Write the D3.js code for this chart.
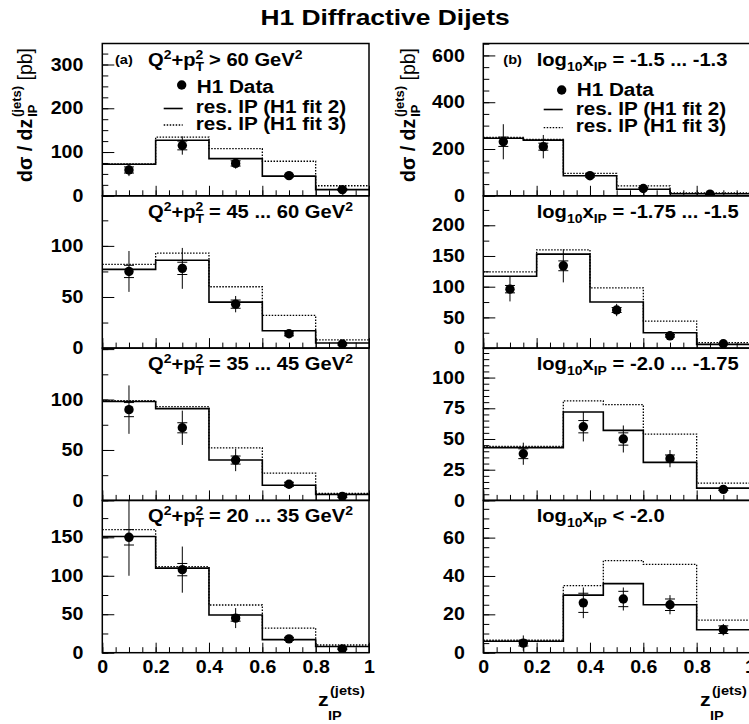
<!DOCTYPE html>
<html lang="en">
<head>
  <meta charset="UTF-8">
  <style>
    body { margin: 0; background: #fff; }
    svg { font-family: "Liberation Sans", Arial, sans-serif; font-weight: bold; }
    text { fill: #000; }
    .frame { fill: none; stroke: #000; stroke-width: 1.5; }
    .axis path { display: none; }
    .axis line { stroke: #000; stroke-width: 1; }
    .axis text { font-family: "Liberation Sans", Arial, sans-serif; font-weight: bold; font-size: 17.5px; }
    .fit2 { fill: none; stroke: #000; stroke-width: 1.6; }
    .fit3 { fill: none; stroke: #000; stroke-width: 1.3; stroke-dasharray: 1.5 1.5; }
    .err { stroke: #000; stroke-width: 1; }
  </style>
</head>
<body>
<svg id="chart" width="749" height="724"></svg>
<script src="https://cdnjs.cloudflare.com/ajax/libs/d3/7.8.5/d3.min.js"></script>
<script>
  // bins in z_IP
  const leftEdges = [0, 0.2, 0.4, 0.6, 0.8, 1.0]
  const leftCentres = [0.1, 0.3, 0.5, 0.7, 0.9]
  const rightEdges = [
    [0, 0.15, 0.3, 0.5, 0.7, 1.0],
    [0, 0.2, 0.4, 0.6, 0.8, 1.0],
    [0, 0.3, 0.45, 0.6, 0.8, 1.0],
    [0, 0.3, 0.45, 0.6, 0.8, 1.0],
  ]
  const rightCentres = [
    [0.075, 0.225, 0.4, 0.6, 0.85],
    [0.1, 0.3, 0.5, 0.7, 0.9],
    [0.15, 0.375, 0.525, 0.7, 0.9],
    [0.15, 0.375, 0.525, 0.7, 0.9],
  ]
  const xMajor = [0, 0.2, 0.4, 0.6, 0.8, 1]

  // (a) Q^2 + pT^2 bins
  const leftLabels = ['> 60', '= 45 ... 60', '= 35 ... 45', '= 20 ... 35']
  const leftFit2 = [
    [72, 127, 85, 45, 14],
    [77, 86, 45, 17, 5],
    [98, 91, 40, 15, 6],
    [151, 110, 49, 17, 8],
  ]
  const leftFit3 = [
    [73, 134, 108, 79, 23],
    [82, 93, 60, 32, 8],
    [99, 93, 52, 27, 7],
    [160, 112, 62, 32, 10],
  ]
  const leftData = [
    [59, 115, 74, 46, 14],
    [75, 78, 43, 14, 4],
    [90, 72, 40, 16, 4],
    [150, 108, 45, 18, 5],
  ]
  const leftStat = [
    [7, 10, 6, 3, 2],
    [6, 6, 4, 2, 1],
    [7, 5, 4, 2, 1],
    [10, 8, 4, 2, 1],
  ]
  const leftTotal = [
    [14, 21, 12, 5, 3],
    [20, 20, 8, 3, 2],
    [24, 17, 11, 4, 2],
    [50, 30, 13, 4, 2],
  ]
  const leftYMax = [348, 149, 151, 198]
  const leftYMajor = [100, 50, 50, 50]
  const leftYMinor = [25, 25, 25, 25]

  // (b) log10 xIP bins
  const rightLabels = ['= -1.5 ... -1.3', '= -1.75 ... -1.5', '= -2.0 ... -1.75', '< -2.0']
  const rightFit2 = [
    [246, 238, 86, 28, 9],
    [117, 153, 75, 25, 6],
    [43, 72, 57, 31, 10],
    [6, 30, 36, 25, 12],
  ]
  const rightFit3 = [
    [250, 241, 96, 42, 12],
    [124, 160, 98, 44, 9],
    [44, 81, 78, 54, 14],
    [6.5, 35, 48, 46, 17],
  ]
  const rightData = [
    [231, 210, 86, 31, 7],
    [96, 134, 62, 20, 7],
    [38, 60, 50, 34, 9],
    [5, 26, 28, 25, 12],
  ]
  const rightStat = [
    [20, 15, 6, 4, 2],
    [6, 8, 4, 2, 1],
    [4, 5, 5, 3, 1],
    [1.5, 5, 4, 3, 2],
  ]
  const rightTotal = [
    [75, 50, 14, 8, 4],
    [20, 27, 10, 4, 2],
    [9, 12, 11, 7, 2],
    [4, 8, 6, 5, 3],
  ]
  const rightYMax = [651, 248, 124, 79.4]
  const rightYMajor = [200, 50, 25, 20]
  const rightYMinor = [50, 25, 5, 5]

  // layout
  const sx = 1.12
  const top0 = 43.5
  const panelH = 152.3
  const columns = [
    { x0: 102.3, x1: 369, pad: 19, edges: [leftEdges, leftEdges, leftEdges, leftEdges],
      centres: [leftCentres, leftCentres, leftCentres, leftCentres],
      fit2: leftFit2, fit3: leftFit3, data: leftData, stat: leftStat, total: leftTotal,
      yMax: leftYMax, yMajor: leftYMajor, yMinor: leftYMinor },
    { x0: 483.3, x1: 750, pad: 18.5, edges: rightEdges, centres: rightCentres,
      fit2: rightFit2, fit3: rightFit3, data: rightData, stat: rightStat, total: rightTotal,
      yMax: rightYMax, yMajor: rightYMajor, yMinor: rightYMinor },
  ]

  const svg = d3.select('#chart')

  function label(g, x, y, size, anchor) {
    return g.append('text')
        .attr('transform', `translate(${x},${y}) scale(${sx},1)`)
        .attr('font-size', size)
        .attr('text-anchor', anchor || 'start')
  }

  // title
  label(svg, 385, 25, 22, 'middle')
      .attr('transform', 'translate(385,25) scale(1.2,1)')
      .text('H1 Diffractive Dijets')

  const step = (edges, vals) => edges.map((e, k) => ({ x: e, y: vals[Math.min(k, vals.length - 1)] }))

  columns.forEach((col, c) => {
    const x = d3.scaleLinear().domain([0, 1]).range([col.x0, col.x1])
    const line = d3.line().curve(d3.curveStepAfter)

    for (let i = 0; i < 4; i++) {
      const top = top0 + i * panelH
      const bottom = top + panelH
      const y = d3.scaleLinear().domain([0, col.yMax[i]]).range([bottom, top])
      const g = svg.append('g')

      const clipId = `clip-${c}-${i}`
      g.append('clipPath').attr('id', clipId)
        .append('rect')
          .attr('x', col.x0).attr('y', top)
          .attr('width', col.x1 - col.x0).attr('height', panelH)

      const plot = g.append('g').attr('clip-path', `url(#${clipId})`)
      const lineXY = line.x(d => x(d.x)).y(d => y(d.y))

      // histograms
      plot.append('path')
          .attr('class', 'fit3')
          .attr('d', lineXY(step(col.edges[i], col.fit3[i])))
      plot.append('path')
          .attr('class', 'fit2')
          .attr('d', lineXY(step(col.edges[i], col.fit2[i])))

      // data points with total (line) and stat (ticks) errors
      const pts = col.data[i].map((v, k) => ({
        x: col.centres[i][k], y: v, stat: col.stat[i][k], tot: col.total[i][k]
      }))
      const pg = plot.selectAll('g.pt')
        .data(pts)
        .enter().append('g')
          .attr('class', 'pt')
      pg.append('line')
          .attr('class', 'err')
          .attr('x1', d => x(d.x)).attr('x2', d => x(d.x))
          .attr('y1', d => y(d.y - d.tot)).attr('y2', d => y(d.y + d.tot))
      ;[-1, 1].forEach(s => {
        pg.append('line')
            .attr('class', 'err')
            .attr('x1', d => x(d.x) - 5).attr('x2', d => x(d.x) + 5)
            .attr('y1', d => y(d.y + s * d.stat)).attr('y2', d => y(d.y + s * d.stat))
      })
      pg.append('circle')
          .attr('cx', d => x(d.x)).attr('cy', d => y(d.y))
          .attr('r', 4.7)

      // y axis (no label right at the top edge)
      const major = d3.range(0, col.yMax[i] + 1e-6, col.yMajor[i])
      const minor = d3.range(0, col.yMax[i] + 1e-6, col.yMinor[i])
      g.append('g')
          .attr('class', 'axis')
          .attr('transform', `translate(${col.x0},0)`)
          .call(d3.axisLeft(y).tickValues(minor).tickSize(-6).tickFormat(''))
      const ya = g.append('g')
          .attr('class', 'axis')
          .attr('transform', `translate(${col.x0},0)`)
          .call(d3.axisLeft(y).tickValues(major).tickSize(-12).tickPadding(col.pad)
            .tickFormat(d => d > col.yMax[i] * 0.97 ? '' : d3.format('d')(d)))
      ya.selectAll('text')
          .attr('x', -col.pad / sx)
          .attr('transform', `scale(${sx},1)`)

      // x axis
      g.append('g')
          .attr('class', 'axis')
          .attr('transform', `translate(0,${bottom})`)
          .call(d3.axisBottom(x).tickValues(d3.range(0, 1.0001, 0.05)).tickSize(-5.5).tickFormat(''))
      const xa = g.append('g')
          .attr('class', 'axis')
          .attr('transform', `translate(0,${bottom})`)
          .call(d3.axisBottom(x).tickValues(xMajor).tickSize(-10).tickPadding(7.5)
            .tickFormat(d => i === 3 ? String(d) : ''))
      xa.selectAll('text').attr('transform', `scale(${sx},1)`)

      g.append('rect')
          .attr('class', 'frame')
          .attr('x', col.x0).attr('y', top)
          .attr('width', col.x1 - col.x0).attr('height', panelH)

      // panel header
      const hx = c === 0 ? 148 : 536.7
      const t = label(g, hx, top + 22, 18)
      if (c === 0) {
        t.append('tspan').text('Q')
        t.append('tspan').attr('font-size', 12.5).attr('dy', -7).text('2')
        t.append('tspan').attr('dy', 7).text('+p')
        t.append('tspan').attr('font-size', 12.5).attr('dy', 5).text('T')
        t.append('tspan').attr('font-size', 12.5).attr('dx', -7.6).attr('dy', -12).text('2')
        t.append('tspan').attr('dy', 7).text(' ' + leftLabels[i] + ' GeV')
        t.append('tspan').attr('font-size', 12.5).attr('dy', -7).text('2')
      } else {
        t.append('tspan').text('log')
        t.append('tspan').attr('font-size', 12.5).attr('dy', 5).text('10')
        t.append('tspan').attr('dy', -5).text('x')
        t.append('tspan').attr('font-size', 12.5).attr('dy', 5).text('IP')
        t.append('tspan').attr('dy', -5).text(' ' + rightLabels[i])
      }
    }

    // panel tag and legend in the top panel
    const lx = c === 0 ? 181.7 : 561.7
    const dy = c === 0 ? 0 : 2
    label(svg, c === 0 ? 115 : 503.3, 63.5, 13).text(c === 0 ? '(a)' : '(b)')
    svg.append('circle').attr('cx', lx).attr('cy', 85 + dy * 2.5).attr('r', 4.7)
    label(svg, lx + 15, 93 + dy * 1.5, 18.5).text('H1 Data')
    svg.append('line').attr('class', 'fit2')
        .attr('x1', lx - 18).attr('x2', lx + 1).attr('y1', 108.5 + dy / 2).attr('y2', 108.5 + dy / 2)
    label(svg, lx + 14, 113 + dy, 18.5).text('res. IP (H1 fit 2)')
    svg.append('line').attr('class', 'fit3')
        .attr('x1', lx - 18).attr('x2', lx + 1).attr('y1', 125 + dy * 1.3).attr('y2', 125 + dy * 1.3)
    label(svg, lx + 14, 129.5 + dy, 18.5).text('res. IP (H1 fit 3)')

    // y title
    const yt = svg.append('text')
        .attr('transform', `translate(${c === 0 ? 32 : 415},48) rotate(-90)`)
        .attr('font-size', 19.5)
        .attr('text-anchor', 'end')
    yt.append('tspan').text('d\u03c3 / dz')
    yt.append('tspan').attr('font-size', 13).attr('dx', 2).attr('dy', 5).text('IP')
    yt.append('tspan').attr('font-size', 13).attr('dx', -12.5).attr('dy', -16).text('(jets)')
    yt.append('tspan').attr('dy', 11).text('  ')
    yt.append('tspan').attr('font-weight', 'normal').text('[pb]')

    // x title
    const zx = c === 0 ? 318 : 700
    label(svg, zx, 706, 19).text('z')
    label(svg, zx + 12, 695, 13).text('(jets)')
    label(svg, zx + 10, 720, 13).text('IP')
  })
</script>
</body>
</html>
